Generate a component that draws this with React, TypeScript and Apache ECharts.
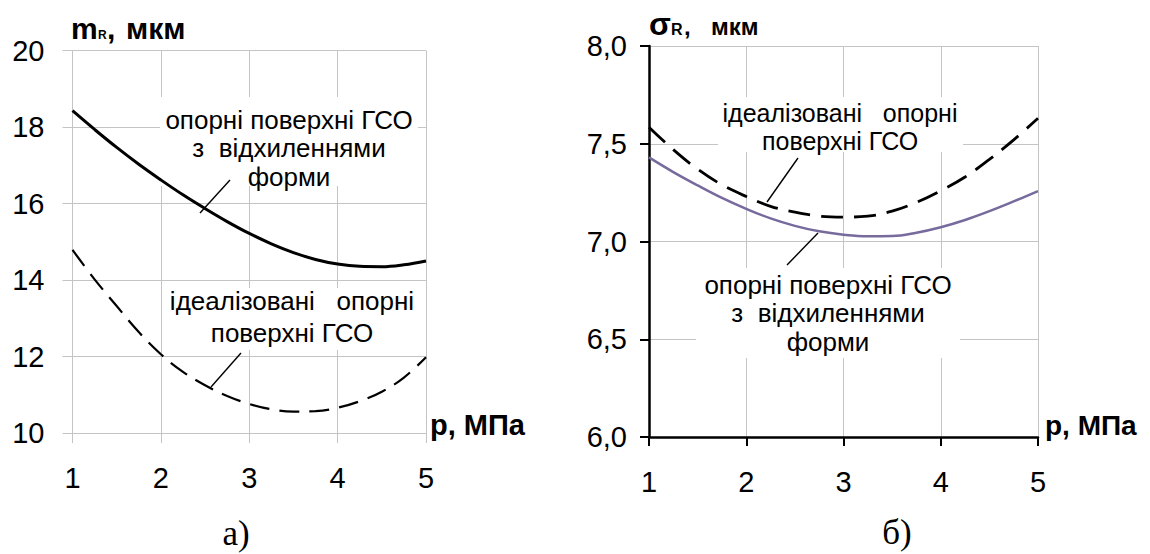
import React, { useEffect, useRef } from "react";
import * as echarts from "echarts";

// pressure p, MPa
const pressure = [1, 1.25, 1.5, 1.75, 2, 2.25, 2.5, 2.75, 3, 3.25, 3.5, 3.75, 4, 4.25, 4.5, 4.75, 5];
// chart a) m_R, µm
const mrDeviated = [18.43, 17.94, 17.47, 17.03, 16.62, 16.23, 15.87, 15.53, 15.22, 14.95, 14.72, 14.54, 14.42, 14.36, 14.35, 14.4, 14.5];
const mrIdeal = [14.79, 14.02, 13.32, 12.64, 12.06, 11.6, 11.25, 10.97, 10.76, 10.62, 10.56, 10.57, 10.66, 10.83, 11.08, 11.45, 11.98];
// chart б) sigma_R, µm
const sigmaIdeal = [7.585, 7.47, 7.37, 7.29, 7.23, 7.18, 7.15, 7.13, 7.125, 7.13, 7.155, 7.2, 7.26, 7.33, 7.42, 7.52, 7.63];
const sigmaDeviated = [7.43, 7.355, 7.287, 7.223, 7.167, 7.118, 7.08, 7.052, 7.035, 7.027, 7.028, 7.045, 7.073, 7.11, 7.155, 7.205, 7.258];

const labelDeviated = ["опорні поверхні ГСО", "з\u00a0 відхиленнями", "форми"];
const labelIdealA = ["ідеалізовані\u00a0\u00a0 опорні", "поверхні ГСО"];
const labelIdealB = ["ідеалізовані\u00a0\u00a0 опорні", "поверхні ГСО"];
const xName = "p, МПа";

const SANS = "'Liberation Sans', Arial, sans-serif";
const SERIF = "'Liberation Serif', 'Times New Roman', serif";
const GRAY = "#c4c4c4";

const pts = (ys: number[]) => pressure.map((p, i) => [p, ys[i]]);

const txt = (x: number, y: number, text: string, fontSize: number, opts: any = {}) => ({
  type: "text",
  x,
  y,
  z: 20,
  style: {
    text,
    fontSize,
    fontFamily: opts.family || SANS,
    fontWeight: opts.weight || "normal",
    fill: "#000",
    align: opts.align || "left",
    verticalAlign: "middle",
  },
});

const whiteRect = (x: number, y: number, w: number, h: number) => ({
  type: "rect",
  z: 5,
  shape: { x, y, width: w, height: h },
  style: { fill: "#fff" },
});

const leader = (x1: number, y1: number, x2: number, y2: number) => ({
  type: "line",
  z: 20,
  shape: { x1, y1, x2, y2 },
  style: { stroke: "#000", lineWidth: 1.4 },
});

export default function App() {
  const ref = useRef<HTMLDivElement>(null);
  useEffect(() => {
    if (!ref.current) return;
    const chart = echarts.init(ref.current, undefined, { renderer: "svg" });

    const xAxisBase = (gridIndex: number, black: boolean) => ({
      type: "value",
      gridIndex,
      min: 1,
      max: 5,
      interval: 1,
      axisLine: { show: true, onZero: false, lineStyle: { color: black ? "#000" : GRAY, width: black ? 2.5 : 1 } },
      axisTick: { show: true, length: black ? 9 : 10, lineStyle: { color: black ? "#000" : GRAY, width: black ? 2 : 1 } },
      splitLine: { show: true, lineStyle: { color: GRAY, width: 1 } },
      axisLabel: { margin: 30, fontSize: 29, fontFamily: SANS, color: "#000" },
    });

    const option: any = {
      animation: false,
      backgroundColor: "#fff",
      grid: [
        { left: 72.5, top: 50.7, width: 353.5, height: 382.3, outerBoundsMode: "none" },
        { left: 649, top: 46, width: 389, height: 391, outerBoundsMode: "none" },
      ],
      xAxis: [xAxisBase(0, false), xAxisBase(1, true)],
      yAxis: [
        {
          type: "value",
          gridIndex: 0,
          min: 10,
          max: 20,
          interval: 2,
          axisLine: { show: true, lineStyle: { color: GRAY, width: 1 } },
          axisTick: { show: true, length: 10, lineStyle: { color: GRAY, width: 1 } },
          splitLine: { show: true, lineStyle: { color: GRAY, width: 1 } },
          axisLabel: { margin: 28, fontSize: 29, fontFamily: SANS, color: "#000" },
        },
        {
          type: "value",
          gridIndex: 1,
          min: 6,
          max: 8,
          interval: 0.5,
          axisLine: { show: true, lineStyle: { color: "#000", width: 2.5 } },
          axisTick: { show: true, length: 9, lineStyle: { color: "#000", width: 2 } },
          splitLine: { show: true, lineStyle: { color: GRAY, width: 1 } },
          axisLabel: {
            margin: 22,
            fontSize: 29,
            fontFamily: SANS,
            color: "#000",
            formatter: (v: number) => v.toFixed(1).replace(".", ","),
          },
        },
      ],
      series: [
        {
          type: "line",
          xAxisIndex: 0,
          yAxisIndex: 0,
          data: pts(mrDeviated),
          smooth: 0.4,
          symbol: "none",
          z: 10,
          lineStyle: { color: "#000", width: 3 },
        },
        {
          type: "line",
          xAxisIndex: 0,
          yAxisIndex: 0,
          data: pts(mrIdeal),
          smooth: 0.4,
          symbol: "none",
          z: 10,
          lineStyle: { color: "#000", width: 2.2, type: [20, 10] },
        },
        {
          type: "line",
          xAxisIndex: 1,
          yAxisIndex: 1,
          data: pts(sigmaIdeal),
          smooth: 0.4,
          symbol: "none",
          z: 10,
          lineStyle: { color: "#000", width: 2.8, type: [22, 11] },
        },
        {
          type: "line",
          xAxisIndex: 1,
          yAxisIndex: 1,
          data: pts(sigmaDeviated),
          smooth: 0.4,
          symbol: "none",
          z: 10,
          lineStyle: { color: "#776a9c", width: 2.5 },
        },
      ],
      graphic: [
        // white boxes behind annotations
        whiteRect(160, 97, 258, 89),
        whiteRect(165, 288, 255, 62),
        whiteRect(718, 97, 245, 55),
        whiteRect(696, 268, 264, 90),
        // leader lines
        leader(200, 213, 230, 180),
        leader(211, 387, 241, 353),
        leader(767, 202, 798, 158),
        leader(787, 265, 818, 233),
        // annotations a)
        txt(289, 120, labelDeviated[0], 26, { align: "center" }),
        txt(289, 148, labelDeviated[1], 26, { align: "center" }),
        txt(289, 176.5, labelDeviated[2], 26, { align: "center" }),
        txt(292, 301, labelIdealA[0], 26, { align: "center" }),
        txt(292, 332.5, labelIdealA[1], 26, { align: "center" }),
        // annotations б)
        txt(840, 113, labelIdealB[0], 25, { align: "center" }),
        txt(840, 141, labelIdealB[1], 25, { align: "center" }),
        txt(828, 285, labelDeviated[0], 26, { align: "center" }),
        txt(828, 313, labelDeviated[1], 26, { align: "center" }),
        txt(828, 341.5, labelDeviated[2], 26, { align: "center" }),
        // axis titles
        txt(71, 28.9, "m", 30, { weight: "bold" }),
        txt(98, 34.8, "R", 12, { weight: "bold" }),
        txt(107, 28.9, ",", 30, { weight: "bold" }),
        txt(126, 28.9, "мкм", 30, { weight: "bold" }),
        txt(649, 23.9, "σ", 32, { weight: "bold" }),
        txt(671, 29.4, "R", 16, { weight: "bold" }),
        txt(684, 26.6, ",", 24, { weight: "bold" }),
        txt(711, 26.6, "мкм", 24, { weight: "bold" }),
        txt(430, 425, xName, 29, { weight: "bold" }),
        txt(1045, 425, xName, 28, { weight: "bold" }),
        // panel letters
        txt(236, 533, "а)", 35, { family: SERIF, align: "center" }),
        txt(897, 532, "б)", 35, { family: SERIF, align: "center" }),
      ],
    };
    chart.setOption(option);
    return () => chart.dispose();
  }, []);
  return (
    <div
      ref={ref}
      style={{ position: "absolute", left: 0, top: 0, width: 1150, height: 554, background: "#fff" }}
    />
  );
}
